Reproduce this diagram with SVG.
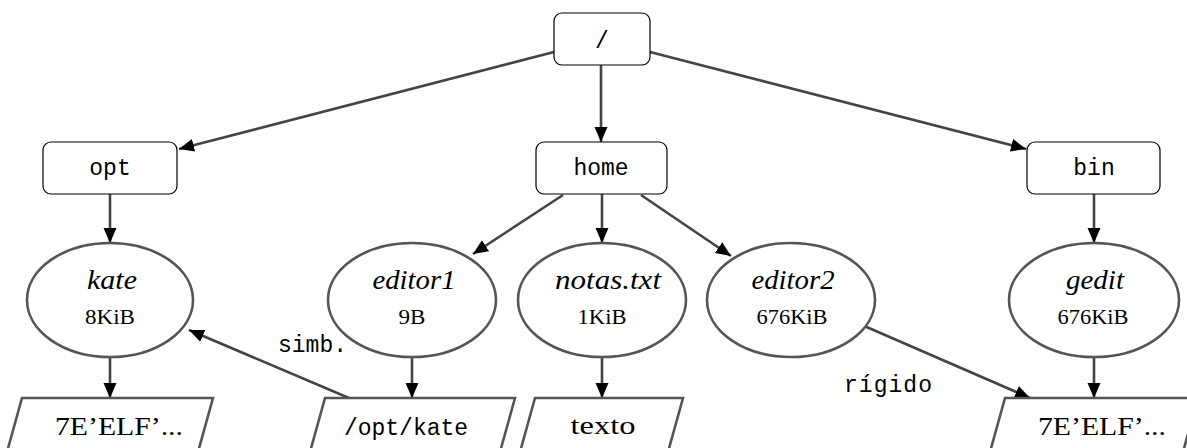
<svg xmlns="http://www.w3.org/2000/svg" width="1187" height="448" viewBox="0 0 1187 448">
<style>
.box{fill:#fff;stroke:#000;stroke-width:1.2}
.ell{fill:#fff;stroke:#555;stroke-width:2.6}
.par{fill:#fff;stroke:#555;stroke-width:2.6}
.edge{stroke:#444;stroke-width:2.6;fill:none;marker-end:url(#ah)}
.mono{font-family:"Liberation Mono","DejaVu Sans Mono",monospace;font-size:23px;fill:#000}
.name{font-family:"Liberation Serif","DejaVu Serif",serif;font-style:italic;font-size:27px;fill:#000;text-anchor:middle}
.size{font-family:"Liberation Serif","DejaVu Serif",serif;font-size:20px;fill:#000;text-anchor:middle}
.ser{font-family:"Liberation Serif","DejaVu Serif",serif;font-size:25px;fill:#000;text-anchor:middle}
.c{text-anchor:middle}
</style>
<defs>
<marker id="ah" markerUnits="userSpaceOnUse" markerWidth="16" markerHeight="14" refX="15" refY="6.5" orient="auto">
<path d="M0,0 L15,6.5 L0,13 z" fill="#000"/>
</marker>
</defs>
<g id="connectors">
<line class="edge" x1="554" y1="52" x2="179" y2="149"/>
<line class="edge" x1="650" y1="52" x2="1026" y2="149"/>
<line class="edge" x1="601" y1="65" x2="601" y2="142"/>
<line class="edge" x1="110" y1="194" x2="110" y2="243"/>
<line class="edge" x1="1094" y1="194" x2="1094" y2="243"/>
<line class="edge" x1="563" y1="195" x2="473" y2="254"/>
<line class="edge" x1="602" y1="194" x2="602" y2="243"/>
<line class="edge" x1="641" y1="195" x2="731" y2="256"/>
<line class="edge" x1="110" y1="357" x2="110" y2="398"/>
<line class="edge" x1="412" y1="357" x2="412" y2="398"/>
<line class="edge" x1="602" y1="357" x2="602" y2="398"/>
<line class="edge" x1="1094" y1="357" x2="1094" y2="398"/>
<line class="edge" x1="349" y1="398" x2="189" y2="330"/>
<line class="edge" x1="862" y1="325" x2="1030" y2="398"/>
<text class="mono" x="278" y="352">simb.</text>
<text class="mono" x="844" y="392" textLength="88" lengthAdjust="spacing">rígido</text>
</g>
<g id="root">
<rect class="box" x="554" y="13" width="96" height="52" rx="8"/>
<text class="mono c" x="602" y="48">/</text>
</g>
<g id="opt">
<rect class="box" x="43" y="142" width="134" height="52" rx="8"/>
<text class="mono c" x="110" y="175">opt</text>
</g>
<g id="home">
<rect class="box" x="536" y="142" width="131" height="52" rx="8"/>
<text class="mono c" x="601" y="175">home</text>
</g>
<g id="bin">
<rect class="box" x="1027" y="142" width="133" height="52" rx="8"/>
<text class="mono c" x="1094" y="175">bin</text>
</g>
<g id="kate">
<ellipse class="ell" cx="110" cy="300" rx="83" ry="57"/>
<text class="name" x="112" y="289" textLength="50" lengthAdjust="spacingAndGlyphs">kate</text>
<text class="size" x="110" y="324" textLength="50" lengthAdjust="spacingAndGlyphs">8KiB</text>
</g>
<g id="editor1">
<ellipse class="ell" cx="412" cy="300" rx="84" ry="57"/>
<text class="name" x="414" y="289" textLength="83" lengthAdjust="spacingAndGlyphs">editor1</text>
<text class="size" x="412" y="324" textLength="27" lengthAdjust="spacingAndGlyphs">9B</text>
</g>
<g id="notas">
<ellipse class="ell" cx="602" cy="300" rx="84" ry="57"/>
<text class="name" x="608" y="289" textLength="106" lengthAdjust="spacingAndGlyphs">notas.txt</text>
<text class="size" x="602" y="324" textLength="49" lengthAdjust="spacingAndGlyphs">1KiB</text>
</g>
<g id="editor2">
<ellipse class="ell" cx="791" cy="300" rx="84" ry="57"/>
<text class="name" x="793" y="289" textLength="83" lengthAdjust="spacingAndGlyphs">editor2</text>
<text class="size" x="792" y="324" textLength="71" lengthAdjust="spacingAndGlyphs">676KiB</text>
</g>
<g id="gedit">
<ellipse class="ell" cx="1094" cy="300" rx="85" ry="57"/>
<text class="name" x="1095" y="289" textLength="58" lengthAdjust="spacingAndGlyphs">gedit</text>
<text class="size" x="1093" y="324" textLength="71" lengthAdjust="spacingAndGlyphs">676KiB</text>
</g>
<g id="kate-data">
<polygon class="par" points="22,398 213,398 198,452 7,452"/>
<text class="ser" x="119" y="435" textLength="128" lengthAdjust="spacingAndGlyphs">7E’ELF’...</text>
</g>
<g id="editor1-data">
<polygon class="par" points="325,398 515,398 500,452 310,452"/>
<text class="mono c" x="406" y="435">/opt/kate</text>
</g>
<g id="notas-data">
<polygon class="par" points="535,398 683,398 668,452 520,452"/>
<text class="ser" x="603" y="434" textLength="65" lengthAdjust="spacingAndGlyphs">texto</text>
</g>
<g id="gedit-data">
<polygon class="par" points="1005,398 1198,398 1183,452 990,452"/>
<text class="ser" x="1102" y="435" textLength="128" lengthAdjust="spacingAndGlyphs">7E’ELF’...</text>
</g>
</svg>
